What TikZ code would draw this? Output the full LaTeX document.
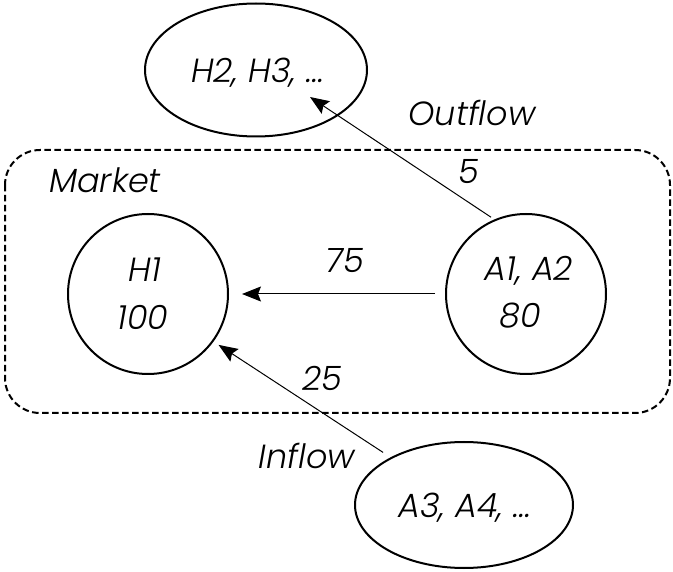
\documentclass[tikz,border=0pt]{standalone}
\usepackage{fontspec}
\setmainfont{Poppins}
\newfontfamily\lblfont{Poppins Light Italic}
\usetikzlibrary{shapes.geometric,arrows.meta}
\tikzset{
  every node/.style={font=\lblfont\fontsize{33.5}{38}\selectfont},
  txt/.style={anchor=base, inner sep=0pt},
  circ/.style={draw, circle, line width=2pt, minimum size=160pt, inner sep=0pt},
  oval/.style={draw, ellipse, line width=2pt, inner sep=0pt},
  arr/.style={line width=1pt, -{Stealth[length=19pt,width=15pt,inset=3pt]}},
  region/.style={draw, line width=2pt, rounded corners=35pt, dash pattern=on 6.5pt off 3.5pt}
}
\begin{document}
\begin{tikzpicture}[x=1pt, y=-1pt]
  \useasboundingbox (0,0) rectangle (673,572);

  % market boundary
  \draw[region] (5,150) rectangle (670,413);
  \node[txt] (market) at (105,193) {Market};

  % agents inside the market
  \node[circ] (H1) at (148,294) {};
  \node[txt] (h1name) at (145,282) {H1};
  \node[txt] (h1val) at (143,330) {100};

  \node[circ] (A) at (526,294) {};
  \node[txt] (aname) at (529,281) {A1, A2};
  \node[txt] (aval) at (520,328) {80};

  % agents outside the market
  \node[oval, minimum width=222pt, minimum height=133pt] (H2) at (256,70) {};
  \node[txt] (h2name) at (258,83) {H2, H3, ...};

  \node[oval, minimum width=218pt, minimum height=126pt] (A3) at (464,505) {};
  \node[txt] (a3name) at (465,517) {A3, A4, ...};

  % flows
  \coordinate (outtip) at (310,97);
  \draw[arr, shorten <=4pt] (A.113) -- (outtip);
  \draw[arr, shorten <=10pt, shorten >=13pt] (A.west) -- (H1.east);
  \draw[arr, shorten <=9pt, shorten >=6pt] (A3.147) -- (H1.-36);

  % flow labels
  \node[txt] (outlbl) at (472,126) {Outflow};
  \node[txt] (five) at (469,184) {5};
  \node[txt] (sevfive) at (345,273) {75};
  \node[txt] (twofive) at (322,391) {25};
  \node[txt] (inlbl) at (307,468) {Inflow};
\end{tikzpicture}
\end{document}
